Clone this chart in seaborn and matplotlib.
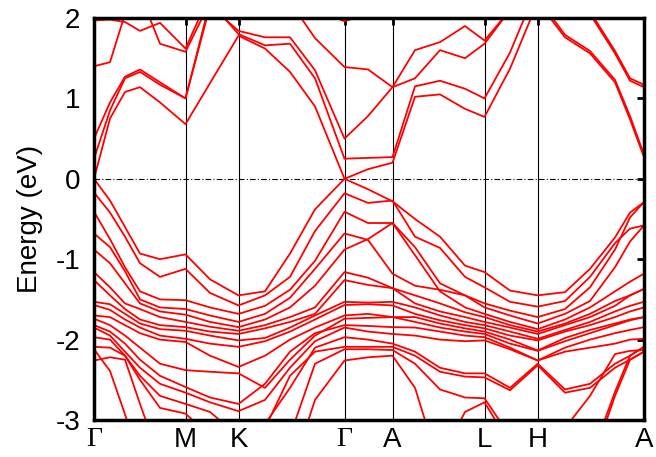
import numpy as np
import pandas as pd
import seaborn as sns
from matplotlib import pyplot as plt

# k-path (distance along the path), high symmetry points and their labels
K_PATH = [0, 16, 31, 46, 66, 91.5, 116, 144.5, 171, 196, 221, 250.5, 274,
          298.5, 321, 346, 371, 390.5, 416, 443.7, 471, 496, 521, 536, 550]
K_TICKS = [0, 91.5, 144.5, 250.5, 298.5, 390.5, 443.7, 550]
K_LABELS = ["Γ", "M", "K", "Γ", "A", "L", "H", "A"]
E_TICKS = [-3, -2, -1, 0, 1, 2]

# conduction bands (eV), values above 2 are outside the window
C1 = [0, 0.75, 1.08, 1.14, 0.95, 0.68, 1.19, 1.78, 1.62, 1.33, 0.9, 0, 0.12,
      0.2, 1.02, 1.05, 0.87, 0.77, 1.37, 2.2, 1.76, 1.56, 1.2, 0.74, 0.27]
C1B = [2.6] * 19 + [2.25, 1.79, 1.59, 1.23, 0.78, 0.30]
C2 = [0.5, 0.95, 1.27, 1.36, 1.2, 1.0, 2.15, 1.84, 1.76, 1.76, 1.35, 0.5, 0.78,
      1.14, 1.6, 1.7, 1.9, 1.72, 2.1, 2.6, 2.5, 2.05, 1.56, 1.22, 1.14]
C2B = [2.6] * 20 + [2.5, 2.08, 1.59, 1.25, 1.17]
C3 = [0.25, 0.85, 1.25, 1.33, 1.17, 1.0, 2.2, 1.80, 1.66, 1.68, 1.25, 0.25, 0.26,
      0.27, 1.15, 1.22, 1.12, 1.0, 1.57, 2.4, 2.6, 2.6, 2.6, 2.6, 2.6]
C4 = [1.40, 1.45, 2.05, 2.3, 2.4, 2.5, 2.5, 2.5, 2.5, 2.2, 1.75, 1.39, 1.36,
      1.14, 1.25, 1.6, 1.5, 1.68, 2.1, 2.5, 2.6, 2.6, 2.6, 2.6, 2.6]
T1 = [1.97, 1.98, 1.95, 1.84, 1.94, 1.62, 2.3] + [2.6] * 18
T2 = [2.6, 2.6, 2.6, 2.3, 1.68, 1.58, 2.2] + [2.6] * 18
T3 = [2.6] * 10 + [2.1, 1.96, 2.05] + [2.6] * 12

# valence bands (eV), values below -3 are outside the window
V1 = [0, -0.27, -0.6, -0.93, -1.0, -0.94, -1.25, -1.45, -1.40, -0.93, -0.38, 0, -0.13,
      -0.28, -0.5, -0.72, -1.08, -1.16, -1.39, -1.45, -1.41, -1.12, -0.73, -0.42, -0.29]
V2 = [-0.17, -0.42, -0.72, -1.05, -1.22, -1.12, -1.42, -1.575, -1.45, -1.22, -0.65, -0.18, -0.30,
      -0.27, -0.72, -0.86, -1.22, -1.35, -1.53, -1.59, -1.52, -1.22, -0.8, -0.62, -0.58]
V3 = [-0.41, -0.75, -1.1, -1.4, -1.5, -1.51, -1.6, -1.68, -1.58, -1.38, -1.02, -0.41, -0.55,
      -0.55, -0.85, -1.3, -1.45, -1.55, -1.64, -1.72, -1.62, -1.35, -0.88, -0.48, -0.29]
V4 = [-0.68, -0.85, -1.15, -1.5, -1.6, -1.62, -1.7, -1.78, -1.68, -1.48, -1.12, -0.68, -0.76,
      -1.18, -1.33, -1.38, -1.45, -1.60, -1.7, -1.80, -1.68, -1.52, -1.1, -0.78, -0.58]
V5 = [-0.88, -1.05, -1.3, -1.55, -1.65, -1.69, -1.78, -1.845, -1.75, -1.6, -1.33, -0.88, -0.75,
      -0.55, -0.95, -1.4, -1.6, -1.68, -1.78, -1.87, -1.75, -1.6, -1.4, -1.28, -1.18]
V6 = [-1.16, -1.35, -1.55, -1.62, -1.72, -1.78, -1.84, -1.89, -1.82, -1.72, -1.6, -1.16, -1.23,
      -1.36, -1.45, -1.55, -1.66, -1.72, -1.82, -1.90, -1.8, -1.68, -1.52, -1.45, -1.37]
V7 = [-1.26, -1.45, -1.62, -1.75, -1.82, -1.845, -1.9, -1.93, -1.86, -1.78, -1.68, -1.26, -1.32,
      -1.36, -1.55, -1.65, -1.72, -1.78, -1.85, -1.93, -1.82, -1.72, -1.58, -1.45, -1.37]
V8 = [-1.53, -1.56, -1.68, -1.8, -1.87, -1.89, -1.95, -2.01, -1.98, -1.85, -1.7, -1.53, -1.54,
      -1.53, -1.6, -1.7, -1.78, -1.82, -1.9, -1.99, -1.88, -1.78, -1.65, -1.58, -1.53]
V9 = [-1.57, -1.63, -1.75, -1.85, -1.95, -1.99, -2.05, -2.09, -2.02, -1.9, -1.75, -1.57, -1.56,
      -1.575, -1.68, -1.76, -1.82, -1.86, -1.95, -2.01, -1.9, -1.82, -1.72, -1.65, -1.60]
V10 = [-1.70, -1.72, -1.82, -1.92, -2.0, -2.03, -2.2, -2.34, -2.2, -2.0, -1.85, -1.70, -1.68,
       -1.72, -1.72, -1.8, -1.86, -1.90, -2.0, -2.135, -1.98, -1.88, -1.8, -1.75, -1.72]
V11 = [-1.74, -1.82, -1.95, -2.1, -2.3, -2.38, -2.4, -2.42, -2.6, -2.25, -1.95, -1.74, -1.73,
       -1.72, -1.78, -1.85, -1.9, -1.93, -2.05, -2.14, -2.02, -1.92, -1.82, -1.76, -1.72]
V12 = [-1.82, -1.9, -2.05, -2.25, -2.45, -2.59, -2.72, -2.80, -2.55, -2.15, -1.92, -1.82, -1.83,
       -1.845, -1.85, -1.9, -1.95, -1.97, -2.1, -2.26, -2.1, -2.0, -1.92, -1.88, -1.845]
V13 = [-1.85, -1.95, -2.15, -2.35, -2.55, -2.66, -2.78, -2.89, -2.75, -2.35, -2.02, -1.85, -1.9,
       -1.93, -1.95, -2.0, -2.02, -2.01, -2.12, -2.26, -2.15, -2.1, -2.05, -2.0, -1.99]
V14 = [-1.97, -2.0, -2.2, -2.45, -2.7, -2.80, -2.9, -3.2, -3.05, -2.6, -2.1, -1.97, -2.0,
       -2.05, -2.15, -2.35, -2.42, -2.42, -2.6, -2.30, -2.62, -2.55, -2.3, -2.2, -2.09]
V15 = [-2.09, -2.1, -2.2, -2.5, -2.85, -2.92, -3.2, -3.6, -3.1, -2.45, -2.15, -2.09, -2.09,
       -2.09, -2.2, -2.4, -2.46, -2.47, -2.63, -2.32, -2.66, -2.6, -2.35, -2.25, -2.15]
V16 = [-2.12, -2.39, -2.93, -3.5, -4, -4, -4, -3.8, -3.6, -3.2, -2.3, -2.12, -2.12,
       -2.13, -2.3, -2.62, -2.72, -2.73, -3.2, -3.6, -3.1, -2.7, -2.18, -2.14, -2.13]
V17 = [-2.26, -2.22, -2.25, -2.8, -3.5, -4, -4, -4, -4, -3.7, -2.75, -2.26, -2.22,
       -2.2, -2.6, -3.6, -4, -4, -4, -4, -4, -3.6, -2.7, -2.25, -2.15]
V18 = [-4] * 15 + [-3.5, -2.9, -2.78, -3.3, -4, -4, -3.5, -2.65, -2.2, -2.09]

BANDS = [C1, C1B, C2, C2B, C3, C4, T1, T2, T3,
         V1, V2, V3, V4, V5, V6, V7, V8, V9, V10, V11, V12, V13, V14, V15, V16, V17, V18]

rows = []
for i, band in enumerate(BANDS):
    for k, e in zip(K_PATH, band):
        rows.append({"band": i, "k": k, "E": e})
df = pd.DataFrame(rows)

sns.set_theme(style="white")
plt.rcParams["font.family"] = ["Liberation Sans", "DejaVu Sans"]
plt.rcParams["axes.unicode_minus"] = False

fig = plt.figure(figsize=(6.56, 4.57), dpi=100)
ax = fig.add_axes([94 / 656, 37 / 457, 550 / 656, 402 / 457])

for k in K_TICKS[1:-1]:
    ax.axvline(k, color="black", lw=0.8, zorder=1)
ax.axhline(0, color="black", lw=0.8, dashes=(5, 2, 1, 2), zorder=1)

sns.lineplot(data=df, x="k", y="E", units="band", estimator=None, color="red",
             linewidth=1.3, legend=False, ax=ax, zorder=2)

ax.set_xlim(K_TICKS[0], K_TICKS[-1])
ax.set_ylim(-3, 2)
ax.set_xticks(K_TICKS)
ax.set_xticklabels(K_LABELS)
ax.set_yticks(E_TICKS)
ax.set_yticklabels([str(v) for v in E_TICKS])
for lab in ax.get_xticklabels():
    if lab.get_text() == "Γ":
        lab.set_family("Liberation Serif")
ax.tick_params(direction="in", length=5, width=2, top=True, right=True,
               labelsize=20, pad=5, colors="black")
ax.tick_params(axis="y", pad=10)
ax.set_xlabel("")
ax.set_ylabel("Energy (eV)", fontsize=20, labelpad=9, color="black")
for s in ax.spines.values():
    s.set_linewidth(2.5)
    s.set_color("black")

fig.savefig("out.png", dpi=100)
